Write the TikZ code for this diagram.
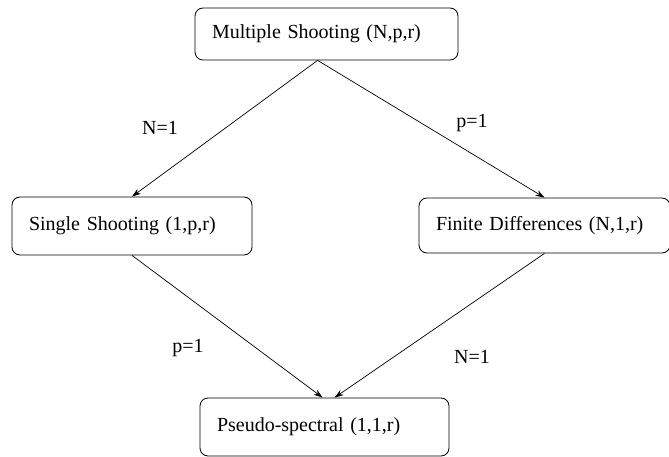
\documentclass[tikz,border=0pt]{standalone}
\usepackage{fontspec}
\setmainfont{Liberation Serif}
\usetikzlibrary{arrows.meta,calc}
\begin{document}
\begin{tikzpicture}[x=1pt,y=-1pt,
  box/.style={draw, rounded corners=8pt, line width=0.8pt, inner xsep=17pt, inner ysep=0pt,
    align=left, font=\fontsize{20}{24}\selectfont},
  lbl/.style={font=\fontsize{20}{24}\selectfont, inner sep=0pt},
  arr/.style={line width=0.7pt, -{Stealth[length=9pt,width=6pt]}}]
\useasboundingbox (0,0) rectangle (669,457);
\node[box, minimum width=263pt, minimum height=52pt, text width=229pt] (ms) at (326.5,34) {\rlap{Multiple Shooting (N,p,r)}};
\node[box, minimum width=240pt, minimum height=58pt, text width=206pt] (ss) at (132,226) {\rlap{Single Shooting (1,p,r)}};
\node[box, minimum width=251pt, minimum height=55pt, text width=217pt] (fd) at (544.5,225.5) {\rlap{Finite Differences (N,1,r)}};
\node[box, minimum width=249pt, minimum height=58pt, text width=215pt] (ps) at (324.5,427) {\rlap{Pseudo-spectral (1,1,r)}};
\coordinate (msb) at ($(ms.south west)+(123,0)$);
\coordinate (psl) at ($(ps.north west)+(123,0)$);
\coordinate (psr) at ($(ps.north west)+(135,0)$);
\draw[arr] (msb) -- (ss.north);
\draw[arr] (msb) -- (fd.north);
\draw[arr] (ss.south) -- (psl);
\draw[arr] (fd.south) -- (psr);
\node[lbl] (l1) at (160,128) {N=1};
\node[lbl] (l2) at (472,123) {p=1};
\node[lbl] (l3) at (188,348) {p=1};
\node[lbl] (l4) at (472,357) {N=1};
\end{tikzpicture}
\end{document}
